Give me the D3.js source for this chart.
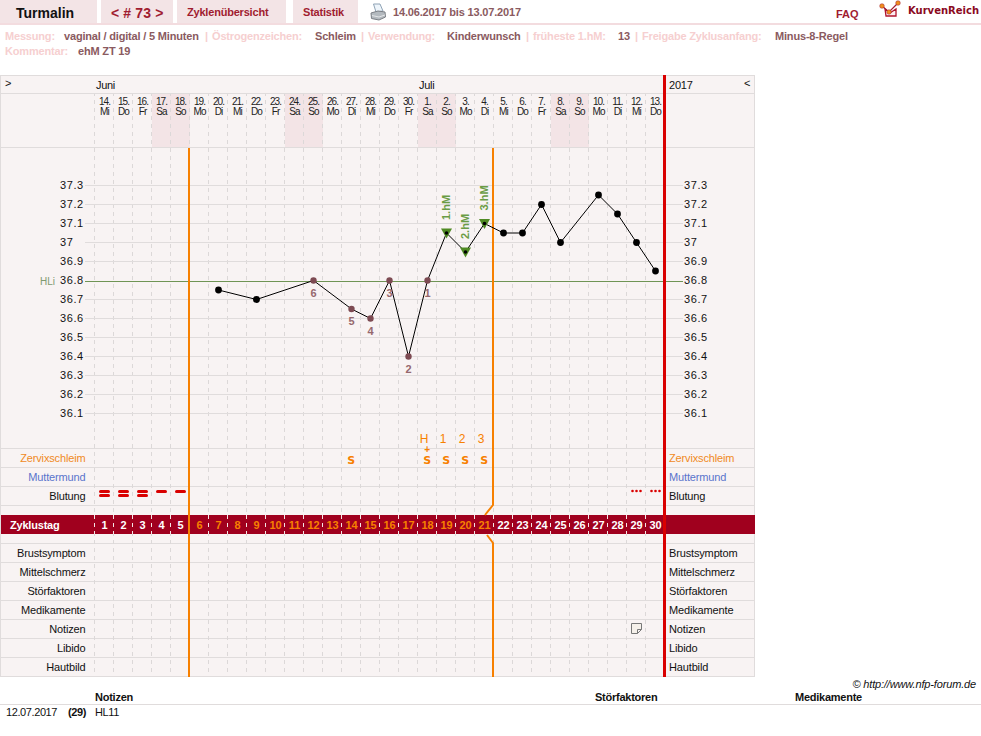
<!DOCTYPE html>
<html lang="de">
<head>
<meta charset="utf-8">
<title>Turmalin – Zyklus 73</title>
<script src="https://cdn.jsdelivr.net/npm/d3@7/dist/d3.min.js"></script>
<style>
html,body{margin:0;padding:0;background:#fff;overflow:hidden}
svg{display:block}
text{font-family:"Liberation Sans",Arial,sans-serif}
</style>
</head>
<body>
<svg id="chart" width="981" height="736"></svg>
<script>
// Calendar columns, one per cycle day
const dateLabels = ["14.","15.","16.","17.","18.","19.","20.","21.","22.","23.","24.","25.","26.","27.","28.","29.","30.","1.","2.","3.","4.","5.","6.","7.","8.","9.","10.","11.","12.","13."];
const weekdayLabels = ["Mi","Do","Fr","Sa","So","Mo","Di","Mi","Do","Fr","Sa","So","Mo","Di","Mi","Do","Fr","Sa","So","Mo","Di","Mi","Do","Fr","Sa","So","Mo","Di","Mi","Do"];
const cycleDays = d3.range(1, 31);

// Temperature readings (cycle day, °C)
const measuredDays = [7, 9, 12, 14, 15, 16, 17, 18, 19, 20, 21, 22, 23, 24, 25, 27, 28, 29, 30];
const temperatures = [36.75, 36.7, 36.8, 36.65, 36.6, 36.8, 36.4, 36.8, 37.05, 36.95, 37.1, 37.05, 37.05, 37.2, 37.0, 37.25, 37.15, 37.0, 36.85];
const temperatureTicks = [37.3, 37.2, 37.1, 37.0, 36.9, 36.8, 36.7, 36.6, 36.5, 36.4, 36.3, 36.2, 36.1];
const coverLine = 36.8;

// Low readings counted back before the rise
const lowDays = [12, 14, 15, 16, 17, 18];
const lowNumbers = ["6", "5", "4", "3", "2", "1"];

// Peak-day markers
const highDays = [19, 20, 21];
const highLabels = ["1.hM", "2.hM", "3.hM"];

// Symptom rows
const mucusDays = [14, 18, 19, 20, 21];
const peakCountDays = [18, 19, 20, 21];
const peakCountLabels = ["H", "1", "2", "3"];
const heavyBleedingDays = [1, 2, 3];
const mediumBleedingDays = [4, 5];
const spottingDays = [29, 30];
const noteDays = [29];
const upperRowLabels = ["Zervixschleim", "Muttermund", "Blutung"];
const upperRowColors = ["#f08a24", "#5a74cc", "#111"];
const lowerRowLabels = ["Brustsymptom", "Mittelschmerz", "Störfaktoren", "Medikamente", "Notizen", "Libido", "Hautbild"];

// Phase boundaries, in cycle-day columns
const fertileStartColumn = 5;
const fertileEndColumn = 21;

const svg = d3.select("#chart");
const col = d3.scaleLinear().domain([0, 30]).range([94.5, 664.5]);
const center = d => col(d - 0.5) + 0.5;
const y = d3.scaleLinear().domain([37.3, 36.1]).range([185.5, 413.5]);

const GRID = "#e0dcdc", PANEL = "#f8f3f3", WEEKEND = "#f3e4e6", RED = "#d90000", BAND = "#a0001e", ORANGE = "#f78000";

function label(g, s, x, yy, o = {}) {
  return g.append("text").attr("x", x).attr("y", yy).text(s)
    .attr("font-size", o.size || 11)
    .attr("font-weight", o.weight || "normal")
    .attr("font-style", o.style || "normal")
    .attr("fill", o.fill || "#111")
    .attr("text-anchor", o.anchor || "start")
    .attr("letter-spacing", o.ls || 0)
    .style("font-family", o.family || null);
}

// Page header: tabs and meta lines
const head = svg.append("g");
[[0, 97], [101, 72], [177, 109], [293, 65]].forEach(([x, w]) =>
  head.append("rect").attr("x", x).attr("y", 0).attr("width", w).attr("height", 23).attr("fill", WEEKEND));
head.append("rect").attr("x", 0).attr("y", 23).attr("width", 981).attr("height", 2).attr("fill", "#f3dcdf");
label(head, "Turmalin", 16, 18, {size: 14, weight: "bold"});
label(head, "< # 73 >", 111, 18, {size: 14, weight: "bold", fill: "#a01c30", ls: 0.15});
label(head, "Zyklenübersicht", 187, 16, {size: 11, weight: "bold", fill: "#a01c30", ls: -0.2});
label(head, "Statistik", 303, 16, {size: 11, weight: "bold", fill: "#a01c30", ls: -0.2});
label(head, "14.06.2017 bis 13.07.2017", 393, 16, {size: 11, weight: "bold", fill: "#8a5a60", ls: -0.17});
label(head, "FAQ", 836, 18, {size: 11, weight: "bold", fill: "#a01c30"});
label(head, "KurvenReich", 908, 14, {size: 10, weight: "bold", fill: "#8a0a1e", family: "DejaVu Sans"});

// Printer icon
const printer = head.append("g");
printer.append("path").attr("d", "M373.5 4 L380 4 L383 11 L376 12 Z").attr("fill", "#eef5fb").attr("stroke", "#8fa3b5");
printer.append("path").attr("d", "M371 13 L378 11 L385 12 L385.5 17 L379 20 L371.5 18.5 Z").attr("fill", "#b4babf").attr("stroke", "#7c8085");
printer.append("path").attr("d", "M372 15.5 L379 17 L385 15").attr("fill", "none").attr("stroke", "#e4e6e8");

// Logo glyph
const logo = head.append("g");
logo.append("path").attr("d", "M885 9 L886 16 L896 16 L896 9 L890 13 Z").attr("fill", "#fbeef2").attr("stroke", "#b0142c").attr("stroke-width", 1.3);
logo.append("path").attr("d", "M882 6 L889 12 L898 3").attr("fill", "none").attr("stroke", "#a01c30").attr("stroke-width", 1.2);
[[882, 6], [889, 12], [898, 3]].forEach(([cx, cy]) =>
  logo.append("circle").attr("cx", cx).attr("cy", cy).attr("r", 2.3).attr("fill", "#ef8f1c").attr("stroke", "#a01c30").attr("stroke-width", 0.5));

const metaLines = [
  [["Messung:", 5, 0], ["vaginal / digital / 5 Minuten", 64, 1], ["|", 205, 0], ["Östrogenzeichen:", 212, 0], ["Schleim", 315, 1], ["|", 361, 0], ["Verwendung:", 368, 0], ["Kinderwunsch", 447, 1], ["|", 526, 0], ["früheste 1.hM:", 533, 0], ["13", 618, 1], ["|", 635, 0], ["Freigabe Zyklusanfang:", 642, 0], ["Minus-8-Regel", 775, 1]],
  [["Kommentar:", 5, 0], ["ehM ZT 19", 78, 1]]
];
metaLines.forEach((line, i) => line.forEach(([s, x, v]) =>
  label(head, s, x, 40 + i * 15, {size: 11, weight: "bold", fill: v ? "#8a5a60" : "#f6cfd0", ls: -0.18})));

// Chart panel
const panel = svg.append("g");
panel.append("rect").attr("x", 0.5).attr("y", 75.5).attr("width", 754).attr("height", 601)
  .attr("fill", PANEL).attr("stroke", GRID);

// Weekend shading in the calendar header
panel.selectAll("rect.weekend").data(cycleDays.filter(d => ["Sa", "So"].includes(weekdayLabels[d - 1])))
  .join("rect").attr("class", "weekend")
  .attr("x", d => col(d - 1) + 0.5).attr("y", 93).attr("width", col(1) - col(0)).attr("height", 54)
  .attr("fill", WEEKEND);

// Horizontal row rules
[93, 147, 448, 467, 486, 505, 543, 562, 581, 600, 619, 638, 657].forEach(v =>
  panel.append("line").attr("x1", 1).attr("x2", 754).attr("y1", v + 0.5).attr("y2", v + 0.5).attr("stroke", GRID));

// Vertical dashed day lines
panel.selectAll("line.day").data(d3.range(0, 30)).join("line").attr("class", "day")
  .attr("x1", d => col(d)).attr("x2", d => col(d)).attr("y1", 94).attr("y2", 676)
  .attr("stroke", "#dcd8d8").attr("stroke-dasharray", "4,4").attr("stroke-dashoffset", 2);

// Temperature grid and axes
const gridRight = 683;
const tickText = d => d === 37 ? "37" : d3.format(".1f")(d);
const axisL = svg.append("g").attr("transform", "translate(85,-1)")
  .call(d3.axisLeft(y).tickValues(temperatureTicks).tickSize(0).tickFormat(tickText));
const axisR = svg.append("g").attr("transform", "translate(684,-1)")
  .call(d3.axisRight(y).tickValues(temperatureTicks).tickSize(0).tickFormat(tickText));
axisL.select(".domain").remove();
axisR.select(".domain").remove();
axisL.selectAll("text").attr("x", -25).attr("text-anchor", "start");
axisR.selectAll("text").attr("x", 0).attr("text-anchor", "start");
[axisL, axisR].forEach(a => a.attr("font-family", null).selectAll("text")
  .attr("font-size", 11).attr("fill", "#111").attr("letter-spacing", 0.6));

svg.append("g").selectAll("line").data(temperatureTicks.filter(t => t !== coverLine)).join("line")
  .attr("x1", 85).attr("x2", gridRight)
  .attr("y1", d => y(d)).attr("y2", d => y(d))
  .attr("stroke", GRID);
svg.append("line").attr("x1", 85).attr("x2", gridRight)
  .attr("y1", y(coverLine) + 1).attr("y2", y(coverLine) + 1)
  .attr("stroke", "#6f9455");
label(svg, "HLi", 40, y(coverLine) + 4, {size: 10, fill: "#7f9a70"});

// Zyklustag band
const band = svg.append("g");
band.append("rect").attr("x", 1).attr("y", 515).attr("width", 754).attr("height", 19).attr("fill", BAND);
band.selectAll("line").data(d3.range(0, 30)).join("line")
  .attr("x1", d => col(d)).attr("x2", d => col(d)).attr("y1", 515).attr("y2", 534)
  .attr("stroke", "#f4e6e6").attr("stroke-dasharray", "4,4");
label(band, "Zyklustag", 10, 529, {size: 11, weight: "bold", fill: "#fff", ls: -0.2});
band.selectAll("text.num").data(cycleDays).join("text").attr("class", "num")
  .attr("x", center).attr("y", 529).attr("text-anchor", "middle")
  .attr("font-size", 11).attr("font-weight", "bold")
  .attr("fill", d => d > fertileStartColumn && d <= fertileEndColumn ? "#f78000" : "#fff")
  .text(d => d);

// Phase boundary lines
const phase = svg.append("g").attr("fill", "none");
const startX = col(fertileStartColumn) - 0.5, endX = col(fertileEndColumn) - 0.5;
phase.append("line").attr("x1", startX).attr("x2", startX)
  .attr("y1", 148).attr("y2", 677).attr("stroke", ORANGE).attr("stroke-width", 2);
phase.append("path").attr("stroke", ORANGE).attr("stroke-width", 2)
  .attr("d", `M${endX} 148 V505 L${endX - 8} 515`);
phase.append("path").attr("stroke", ORANGE).attr("stroke-width", 2)
  .attr("d", `M${endX - 6} 535 L${endX} 543 V677`);
svg.append("rect").attr("x", col(30) - 1.5).attr("y", 75).attr("width", 3).attr("height", 602).attr("fill", RED);

// Calendar labels
const cal = svg.append("g");
label(cal, ">", 5, 87, {size: 11});
label(cal, "Juni", 96, 89, {size: 11, ls: -0.3});
label(cal, "Juli", 419, 89, {size: 11, ls: -0.3});
label(cal, "2017", 669, 89, {size: 11, ls: -0.2});
label(cal, "<", 744, 87, {size: 11});
cal.selectAll("text.date").data(cycleDays).join("text").attr("class", "date")
  .attr("x", center).attr("y", 105).attr("text-anchor", "middle")
  .attr("font-size", 10).attr("letter-spacing", -0.9).attr("fill", "#222")
  .text(d => dateLabels[d - 1]);
cal.selectAll("text.wd").data(cycleDays).join("text").attr("class", "wd")
  .attr("x", center).attr("y", 115).attr("text-anchor", "middle")
  .attr("font-size", 10).attr("letter-spacing", -0.9).attr("fill", "#222")
  .text(d => weekdayLabels[d - 1]);

// Row labels on both sides
const rows = svg.append("g");
upperRowLabels.forEach((s, i) => {
  const yy = 462 + i * 19;
  label(rows, s, 85.5, yy, {size: 11, anchor: "end", fill: upperRowColors[i], ls: -0.15});
  label(rows, s, 669, yy, {size: 11, fill: upperRowColors[i], ls: -0.15});
});
lowerRowLabels.forEach((s, i) => {
  const yy = 557 + i * 19;
  label(rows, s, 85.5, yy, {size: 11, anchor: "end", ls: -0.15});
  label(rows, s, 669, yy, {size: 11, ls: -0.15});
});

// Temperature curve
const pts = measuredDays.map((d, i) => ({day: d, temp: temperatures[i]}));
const curve = d3.line().x(d => center(d.day)).y(d => y(d.temp));
svg.append("path").datum(pts).attr("d", curve).attr("fill", "none").attr("stroke", "#000").attr("stroke-width", 1);

svg.append("g").selectAll("path").data(pts.filter(p => highDays.includes(p.day))).join("path")
  .attr("transform", d => `translate(${center(d.day)},${y(d.temp)})`)
  .attr("d", "M-5.5 -4.5 H5.5 L0 5.5 Z").attr("fill", "#4f8a23");

svg.append("g").selectAll("circle").data(pts).join("circle")
  .attr("cx", d => center(d.day)).attr("cy", d => y(d.temp))
  .attr("r", d => highDays.includes(d.day) ? 1.8 : lowDays.includes(d.day) ? 3.2 : 3.4)
  .attr("fill", d => lowDays.includes(d.day) ? "#7d4a52" : "#000");

// Numbered low readings
svg.append("g").selectAll("text").data(pts.filter(p => lowDays.includes(p.day))).join("text")
  .attr("x", d => center(d.day)).attr("y", d => y(d.temp) + 16).attr("text-anchor", "middle")
  .attr("font-size", 11).attr("font-weight", "bold").attr("fill", "#96686e")
  .text(d => lowNumbers[lowDays.indexOf(d.day)]);

// Rotated peak labels
svg.append("g").selectAll("text").data(pts.filter(p => highDays.includes(p.day))).join("text")
  .attr("transform", d => `translate(${center(d.day) + 3.5},${y(d.temp) - 13}) rotate(-90)`)
  .attr("font-size", 11).attr("font-weight", "bold").attr("fill", "#6a9c45")
  .text(d => highLabels[highDays.indexOf(d.day)]);

// Mucus symbols
const marks = svg.append("g");
marks.selectAll("text.s").data(mucusDays).join("text").attr("class", "s")
  .attr("x", d => center(d) - 0.3).attr("y", 464).attr("text-anchor", "middle")
  .attr("font-size", 11).attr("font-weight", "bold").style("font-family", "DejaVu Sans")
  .attr("fill", ORANGE).text("S");
label(marks, "+", center(18) - 0.3, 453, {size: 10, weight: "bold", fill: ORANGE, anchor: "middle"});
marks.selectAll("text.pk").data(peakCountDays).join("text").attr("class", "pk")
  .attr("x", d => center(d) - 3.5).attr("y", 443).attr("text-anchor", "middle")
  .attr("font-size", 12).attr("fill", ORANGE)
  .text((d, i) => peakCountLabels[i]);

// Bleeding bars and spotting dots
const bleed = svg.append("g").attr("fill", RED);
const barW = 11, barH = 3;
heavyBleedingDays.forEach(d => [491.4, 495.6].forEach(v =>
  bleed.append("rect").attr("x", center(d) - barW / 2).attr("y", v - barH / 2).attr("width", barW).attr("height", barH).attr("rx", 1.5)));
mediumBleedingDays.forEach(d =>
  bleed.append("rect").attr("x", center(d) - barW / 2).attr("y", 491.4 - barH / 2).attr("width", barW).attr("height", barH).attr("rx", 1.5));
spottingDays.forEach(d => [-4, 0, 4].forEach(o =>
  bleed.append("circle").attr("cx", center(d) + o).attr("cy", 491).attr("r", 1.3)));

// Note icon
svg.append("g").selectAll("path").data(noteDays).join("path")
  .attr("transform", d => `translate(${center(d)},628.5)`)
  .attr("d", "M-5 -5 H5 V1 L1 5 H-5 Z M5 1 H1 V5")
  .attr("fill", "#f5f0ea").attr("stroke", "#777").attr("stroke-width", 1);

// Footer notes table
const foot = svg.append("g");
label(foot, "© http://www.nfp-forum.de", 976, 688, {size: 11, style: "italic", anchor: "end", ls: -0.15});
label(foot, "Notizen", 95, 701, {size: 11, weight: "bold", ls: -0.25});
label(foot, "Störfaktoren", 595, 701, {size: 11, weight: "bold", ls: -0.25});
label(foot, "Medikamente", 795, 701, {size: 11, weight: "bold", ls: -0.25});
foot.append("line").attr("x1", 0).attr("x2", 981).attr("y1", 704.5).attr("y2", 704.5).attr("stroke", GRID);
label(foot, "12.07.2017", 6, 716, {size: 11, ls: -0.4});
label(foot, "(29)", 68, 716, {size: 11, weight: "bold", ls: -0.4});
label(foot, "HL11", 95, 716, {size: 11, ls: -0.4});
</script>
</body>
</html>
